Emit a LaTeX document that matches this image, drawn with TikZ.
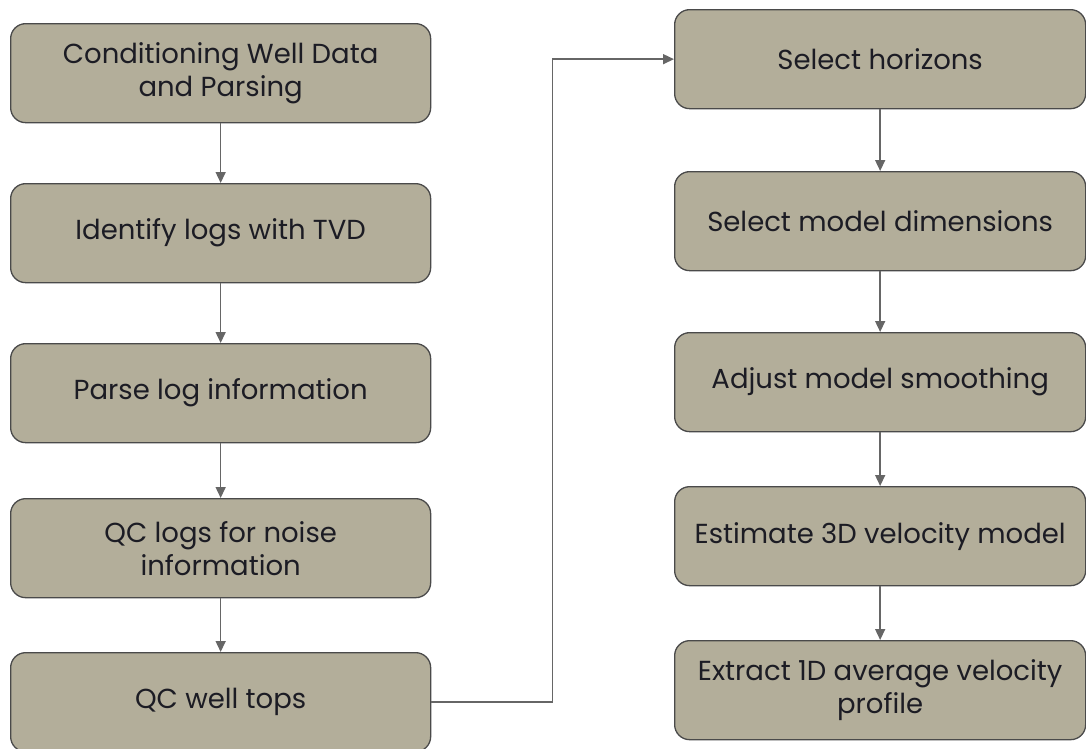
\documentclass[tikz,border=0pt]{standalone}
\usepackage{fontspec}
\setmainfont{Poppins}
\usetikzlibrary{arrows.meta,positioning}
\definecolor{stepFill}{HTML}{B3AE9A}
\definecolor{stepLine}{HTML}{4A4A4A}
\definecolor{flowCol}{HTML}{666666}
\definecolor{stepText}{HTML}{1C1C24}

\tikzset{
  stepbox/.style={draw=stepLine, fill=stepFill, rounded corners=15pt,
    line width=1.3pt, minimum height=99pt, inner sep=6pt,
    anchor=north west, align=center, text=stepText,
    font=\fontsize{27.5}{33}\selectfont},
  flow/.style={draw=flowCol, line width=1.5pt,
    -{Triangle[length=11pt,width=10pt]}},
}

\begin{document}
\begin{tikzpicture}[x=1pt,y=-1pt]
\useasboundingbox (0,0) rectangle (1086,748);

% well data column
\foreach \name/\y/\desc in {%
  wellA/23/{Conditioning Well Data\\and Parsing},%
  wellB/183/{Identify logs with TVD},%
  wellC/343/{Parse log information},%
  wellD/498/{QC logs for noise\\information},%
  wellE/652/{QC well tops}%
}
{
  \node[stepbox, minimum width=420pt] (\name) at (10,\y) {\desc};
}

% velocity model column
\foreach \name/\y/\desc in {%
  velA/9/{Select horizons},%
  velB/171/{Select model dimensions},%
  velC/332/{Adjust model smoothing},%
  velD/486/{Estimate 3D velocity model},%
  velE/640/{Extract 1D average velocity\\profile}%
}
{
  \node[stepbox, minimum width=411pt] (\name) at (674,\y) {\desc};
}

\foreach \a/\b in {wellA/wellB, wellB/wellC, wellC/wellD, wellD/wellE,
                   velA/velB, velB/velC, velC/velD, velD/velE}
  \draw[flow] (\a) -- (\b);

% hand over to second column
\draw[flow] (wellE.east) -- ++(121,0) |- (velA.west);

\end{tikzpicture}
\end{document}
